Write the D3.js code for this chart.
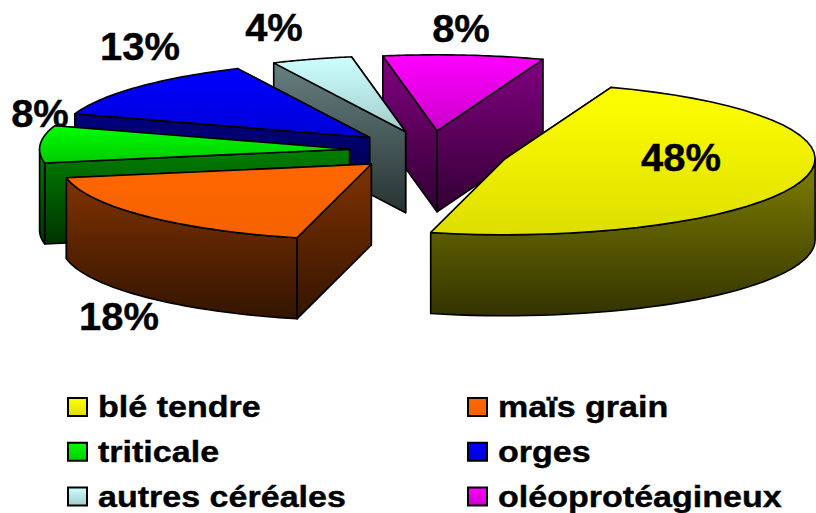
<!DOCTYPE html>
<html>
<head>
<meta charset="utf-8">
<script src="https://cdn.jsdelivr.net/npm/d3@7/dist/d3.min.js"></script>
<style>
html, body { margin: 0; padding: 0; background: #fff; overflow: hidden; }
text { font-family: "Liberation Sans", Arial, sans-serif; font-weight: bold; fill: #000; stroke: #000; stroke-width: 0.4px; }
</style>
</head>
<body>
<div id="chart"></div>
<script>
// DATA
var categories = ["blé tendre", "maïs grain", "triticale", "orges", "autres céréales", "oléoprotéagineux"];
var percents = [48, 18, 8, 13, 4, 8];
// unrounded shares
var shares = [48.3, 18.25, 7.9, 13.0, 4.2, 8.35];

// COLOURS (top of face, bottom of face)
var topColors = [["#ffff00", "#dede00"], ["#ff6600", "#f56200"], ["#00ff00", "#00cc00"],
                 ["#0000ff", "#0000d8"], ["#ccffff", "#a3cccc"], ["#ff00ff", "#cc00cc"]];
var wallColors = [["#808000", "#333300"], ["#803300", "#331400"], ["#008000", "#003300"],
                  ["#000080", "#000033"], ["#668080", "#293333"], ["#800080", "#330033"]];

// SIZING
var width = 816, height = 513;
var centerX = 430, centerY = 150.5;
var radiusX = 310, radiusY = 76;
var depth = 81;
var explode = 0.26;
// the yellow slice sits a little lower and further left than a plain explode puts it
var nudgeX = [-2, 0, 0, 0, 0, 0];
var nudgeY = [2.5, 0, 0, 0, 0, 0];

// unit circle -> page
var x = d3.scaleLinear().domain([-1, 1]).range([centerX - radiusX, centerX + radiusX]);
var y = d3.scaleLinear().domain([-1, 1]).range([centerY - radiusY, centerY + radiusY]);

var svg = d3.select("#chart").append("svg").attr("width", width).attr("height", height);
var defs = svg.append("defs");

function addGradient(id, colors) {
    var g = defs.append("linearGradient").attr("id", id)
        .attr("x1", 0).attr("y1", 0).attr("x2", 0).attr("y2", 1);
    g.append("stop").attr("offset", "0%").attr("stop-color", colors[0]);
    g.append("stop").attr("offset", "100%").attr("stop-color", colors[1]);
}
topColors.forEach(function (c, i) { addGradient("top" + i, c); });
wallColors.forEach(function (c, i) { addGradient("wall" + i, c); });

// angles start a bit past 12 o'clock and go clockwise
var start = 20 * Math.PI / 180;
var pie = d3.pie().sort(null).startAngle(start).endAngle(start + 2 * Math.PI);
var slices = pie(shares);

var line = d3.line().curve(d3.curveLinear);

function rimPoints(d, from, to, drop) {
    var ox = explode * Math.sin((d.startAngle + d.endAngle) / 2);
    var oy = -explode * Math.cos((d.startAngle + d.endAngle) / 2);
    return d3.range(0, 41).map(function (k) {
        var t = from + (to - from) * k / 40;
        return [x(ox + Math.sin(t)) + nudgeX[d.index], y(oy - Math.cos(t)) + nudgeY[d.index] + drop];
    });
}

function apex(d, drop) {
    var mid = (d.startAngle + d.endAngle) / 2;
    return [x(explode * Math.sin(mid)) + nudgeX[d.index], y(-explode * Math.cos(mid)) + nudgeY[d.index] + drop];
}

function radialWall(d, angle) {
    var r = rimPoints(d, angle, angle, 0)[0];
    return line([apex(d, 0), r, [r[0], r[1] + depth], apex(d, depth)]) + "Z";
}

// only the part of the rim facing the viewer has an outer wall
function outerWall(d) {
    var pts = [];
    [[Math.PI / 2, 3 * Math.PI / 2], [Math.PI / 2 + 2 * Math.PI, 3 * Math.PI / 2 + 2 * Math.PI]].forEach(function (w) {
        var from = Math.max(d.startAngle, w[0]), to = Math.min(d.endAngle, w[1]);
        if (from < to) {
            pts = rimPoints(d, from, to, 0).concat(rimPoints(d, to, from, depth));
        }
    });
    return pts.length ? line(pts) + "Z" : null;
}

function topFace(d) {
    return line([apex(d, 0)].concat(rimPoints(d, d.startAngle, d.endAngle, 0))) + "Z";
}

// PERCENT LABELS
var labelFont = 38;
var labelSpots = [[681, 171], [119, 330], [40, 127], [140, 60], [274, 41], [461, 42]];

function drawLabel(parent, i) {
    parent.append("text")
        .attr("transform", "translate(" + labelSpots[i][0] + "," + labelSpots[i][1] + ") scale(1.05,1)")
        .attr("text-anchor", "middle")
        .style("font-size", labelFont + "px")
        .text(percents[i] + "%");
}

// all labels but the one sitting on the yellow slice go behind the pie
var behind = svg.append("g");
percents.forEach(function (p, i) { if (i > 0) drawLabel(behind, i); });

// DRAW SLICES, back to front
var drawOrder = [5, 4, 3, 2, 1, 0];
drawOrder.forEach(function (i) {
    var d = slices[i];
    var g = svg.append("g").attr("stroke", "#000").attr("stroke-width", 1.6).attr("stroke-linejoin", "round");
    g.append("path").attr("d", radialWall(d, d.endAngle)).attr("fill", "url(#wall" + i + ")");
    g.append("path").attr("d", radialWall(d, d.startAngle)).attr("fill", "url(#wall" + i + ")");
    var w = outerWall(d);
    if (w) g.append("path").attr("d", w).attr("fill", "url(#wall" + i + ")");
    g.append("path").attr("d", topFace(d)).attr("fill", "url(#top" + i + ")");
});

drawLabel(svg, 0);

// DRAW LEGEND
var legendCols = d3.scaleOrdinal().domain([0, 1]).range([67, 467]);
var legendRows = d3.scalePoint().domain([0, 1, 2]).range([417, 506.5]);

var legend = svg.selectAll("g.legend")
    .data(categories)
    .enter().append("g")
    .attr("class", "legend")
    .attr("transform", function (d, i) {
        return "translate(" + legendCols(i % 2) + "," + legendRows(Math.floor(i / 2)) + ")";
    });

legend.append("rect")
    .attr("x", 1).attr("y", -19)
    .attr("width", 19).attr("height", 18)
    .attr("fill", function (d, i) { return "url(#top" + i + ")"; })
    .attr("stroke", "#000").attr("stroke-width", 2);

legend.append("text")
    .attr("transform", "translate(31,0) scale(1.135,1)")
    .style("font-size", "30px")
    .text(function (d) { return d; });
</script>
</body>
</html>
